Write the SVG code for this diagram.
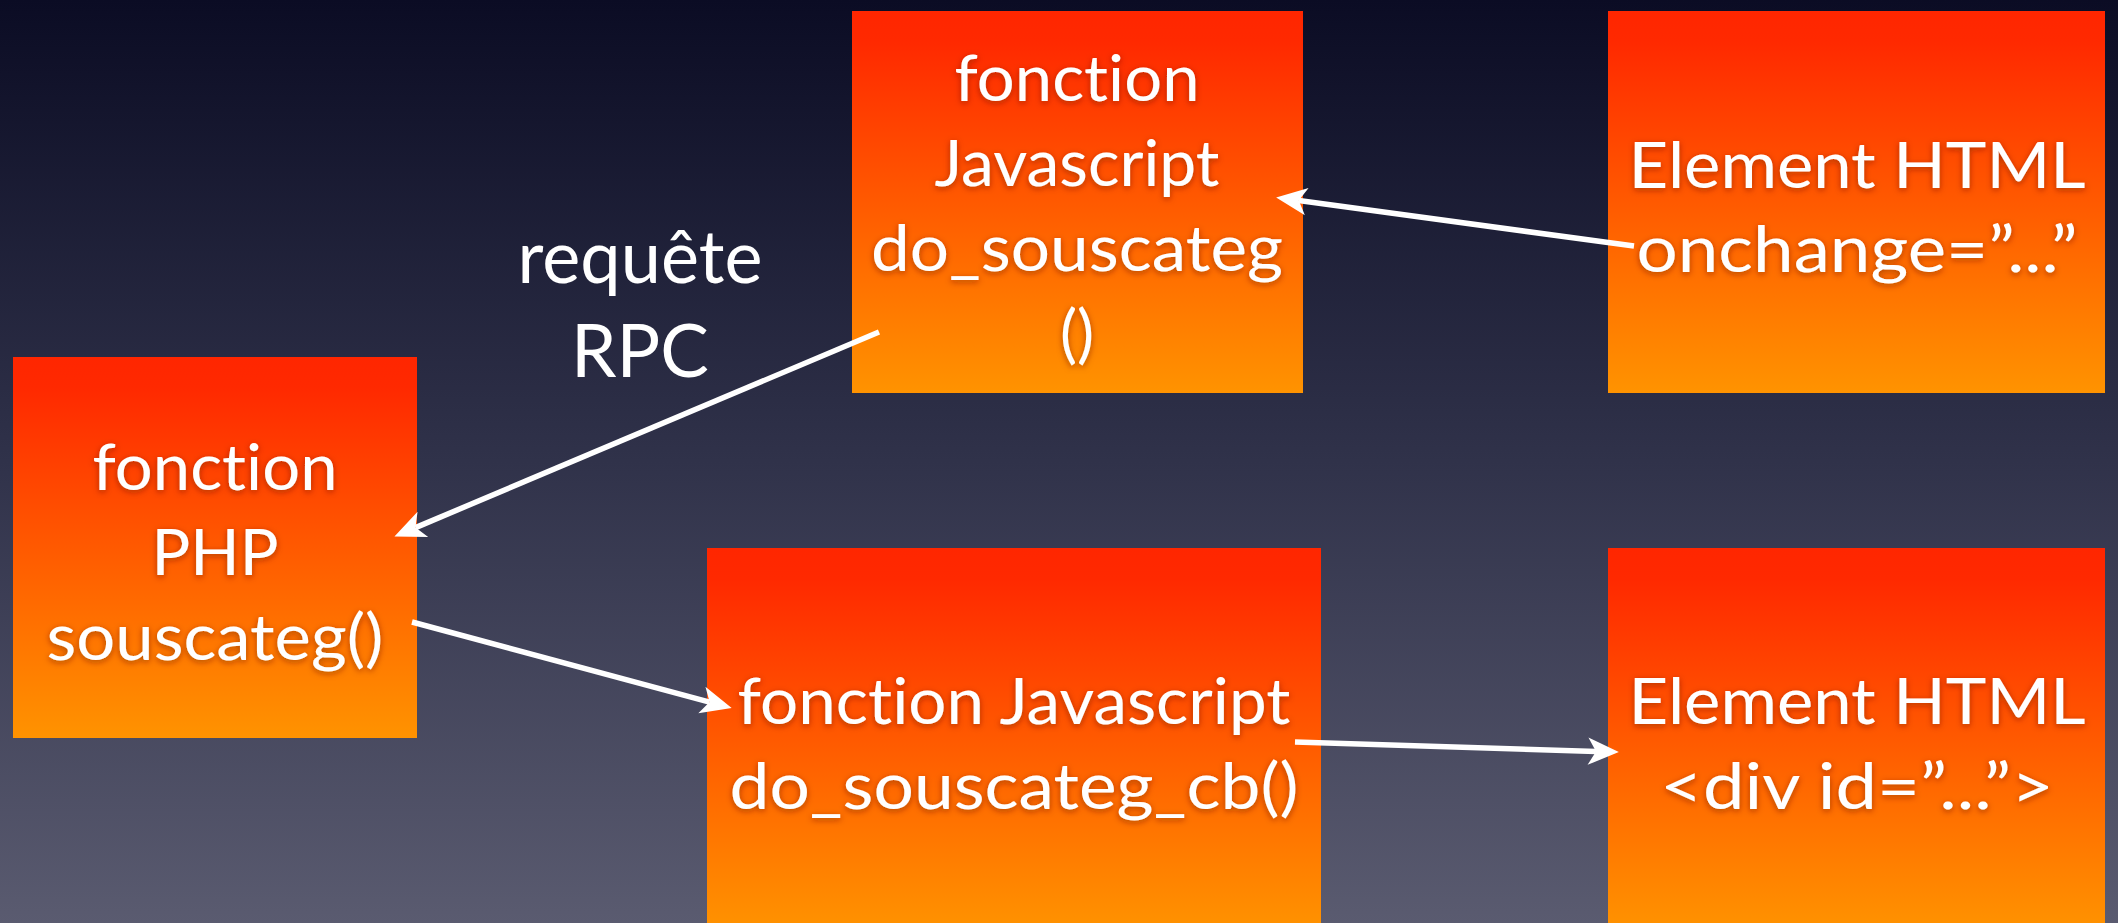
<svg xmlns="http://www.w3.org/2000/svg" width="2118" height="923" viewBox="0 0 2118 923">
  <defs>
    <linearGradient id="bg" x1="0" y1="0" x2="0" y2="1">
      <stop offset="0" stop-color="#0b0c24"/>
      <stop offset="0.5" stop-color="#30324a"/>
      <stop offset="1" stop-color="#5a5b70"/>
    </linearGradient>
    <linearGradient id="boxFill" x1="0" y1="0" x2="0" y2="1">
      <stop offset="0" stop-color="#ff2600"/>
      <stop offset="0.08" stop-color="#ff2900"/>
      <stop offset="1" stop-color="#ff9300"/>
    </linearGradient>
    <filter id="glow" x="-10%" y="-30%" width="120%" height="160%">
      <feGaussianBlur in="SourceAlpha" stdDeviation="3" result="b"/>
      <feOffset in="b" dy="2" result="o"/>
      <feFlood flood-color="#6a1a00" flood-opacity="0.55"/>
      <feComposite in2="o" operator="in" result="s"/>
      <feMerge>
        <feMergeNode in="s"/>
        <feMergeNode in="SourceGraphic"/>
      </feMerge>
    </filter>
    <marker id="head" markerUnits="userSpaceOnUse" markerWidth="40" markerHeight="40" viewBox="-10 -15 35 30" refX="0" refY="0" orient="auto">
      <path d="M20,0 L-7,-12 L0,0 L-7,12 Z" fill="#ffffff"/>
    </marker>
  </defs>
  <style>
    .box { fill: url(#boxFill); }
    .lbl { font-family: Lato, "Open Sans", "DejaVu Sans", sans-serif; font-size: 64px; fill: #ffffff; text-anchor: middle; filter: url(#glow); font-variant-ligatures: none; }
    .note { font-family: Lato, "Open Sans", "DejaVu Sans", sans-serif; font-size: 73px; fill: #ffffff; text-anchor: middle; font-variant-ligatures: none; }
    .wire { stroke: #ffffff; stroke-width: 5.5; fill: none; marker-end: url(#head); }
  </style>

  <rect x="0" y="0" width="2118" height="923" fill="url(#bg)"/>

  <g id="js-do-souscateg">
    <rect class="box" x="852" y="11" width="451" height="382"/>
    <text class="lbl" x="1077" y="101" textLength="245" lengthAdjust="spacingAndGlyphs">fonction</text>
    <text class="lbl" x="1077" y="186" textLength="285" lengthAdjust="spacingAndGlyphs">Javascript</text>
    <text class="lbl" x="1077" y="271" textLength="412" lengthAdjust="spacingAndGlyphs">do_souscateg</text>
    <text class="lbl" x="1077" y="356">()</text>
  </g>

  <g id="html-onchange">
    <rect class="box" x="1608" y="11" width="497" height="382"/>
    <text class="lbl" x="1857" y="188" textLength="457" lengthAdjust="spacingAndGlyphs">Element HTML</text>
    <text class="lbl" x="1857" y="272" textLength="441" lengthAdjust="spacingAndGlyphs">onchange=”...”</text>
  </g>

  <g id="php-souscateg">
    <rect class="box" x="13" y="357" width="404" height="381"/>
    <text class="lbl" x="215" y="490" textLength="245" lengthAdjust="spacingAndGlyphs">fonction</text>
    <text class="lbl" x="215" y="575" textLength="127" lengthAdjust="spacingAndGlyphs">PHP</text>
    <text class="lbl" x="215" y="660" textLength="337" lengthAdjust="spacingAndGlyphs">souscateg()</text>
  </g>

  <g id="js-do-souscateg-cb">
    <rect class="box" x="707" y="548" width="614" height="382"/>
    <text class="lbl" x="1014" y="724" textLength="553" lengthAdjust="spacingAndGlyphs">fonction Javascript</text>
    <text class="lbl" x="1014" y="809" textLength="569" lengthAdjust="spacingAndGlyphs">do_souscateg_cb()</text>
  </g>

  <g id="html-div">
    <rect class="box" x="1608" y="548" width="497" height="382"/>
    <text class="lbl" x="1857" y="724" textLength="457" lengthAdjust="spacingAndGlyphs">Element HTML</text>
    <text class="lbl" x="1857" y="809" textLength="394" lengthAdjust="spacingAndGlyphs">&lt;div id=”...”&gt;</text>
  </g>

  <g id="rpc-label">
    <text class="note" x="640" y="283" textLength="245" lengthAdjust="spacingAndGlyphs">requête</text>
    <text class="note" x="640" y="377" textLength="138" lengthAdjust="spacingAndGlyphs">RPC</text>
  </g>

  <g id="connectors">
    <line class="wire" x1="1634" y1="246" x2="1298.8" y2="200.6"/>
    <line class="wire" x1="879" y1="332" x2="415.5" y2="527.6"/>
    <line class="wire" x1="412" y1="622" x2="709.6" y2="702.1"/>
    <line class="wire" x1="1295" y1="742" x2="1596" y2="751.4"/>
  </g>
</svg>
